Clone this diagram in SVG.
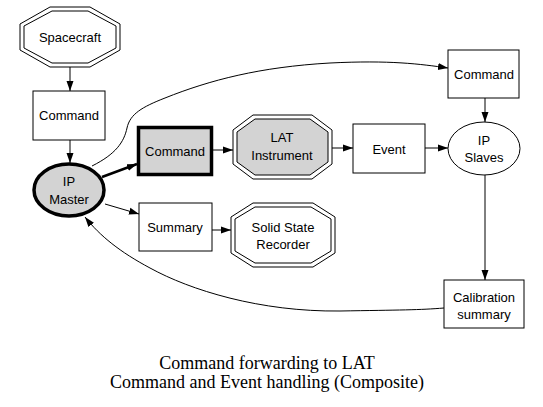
<svg xmlns="http://www.w3.org/2000/svg" width="543" height="407" viewBox="0 0 543 407">
<style>
.n{fill:#fff;stroke:#000;stroke-width:1}
.g{fill:#d3d3d3}
.thick{stroke-width:3.5}
.t{font-family:"Liberation Sans",Arial,sans-serif;font-size:13px;text-anchor:middle;fill:#000}
.c{fill:none;stroke:#000;stroke-width:1}
.tc{stroke-width:2.5}
.title{font-family:"Liberation Serif","Times New Roman",serif;font-size:18px;text-anchor:middle;fill:#000}
</style>
<defs>
<marker id="ah" viewBox="0 0 10 10" refX="10" refY="5" markerWidth="10" markerHeight="10" markerUnits="userSpaceOnUse" orient="auto">
<path d="M0,1.5 L10,5 L0,8.5 Z" fill="#000"/>
</marker>
</defs>
<rect width="543" height="407" fill="#fff"/>
<g id="connectors">
<line class="c" x1="70" y1="67" x2="70" y2="91" marker-end="url(#ah)"/>
<line class="c" x1="70" y1="140" x2="70" y2="163" marker-end="url(#ah)"/>
<line class="c tc" x1="102" y1="177" x2="137" y2="164" marker-end="url(#ah)"/>
<line class="c" x1="105" y1="204" x2="139" y2="214" marker-end="url(#ah)"/>
<line class="c" x1="213" y1="150" x2="233" y2="150" marker-end="url(#ah)"/>
<line class="c" x1="332" y1="148" x2="353" y2="148" marker-end="url(#ah)"/>
<line class="c" x1="425" y1="148" x2="448" y2="148" marker-end="url(#ah)"/>
<line class="c" x1="485" y1="98" x2="485" y2="122" marker-end="url(#ah)"/>
<line class="c" x1="485" y1="175" x2="485" y2="280" marker-end="url(#ah)"/>
<line class="c" x1="212" y1="230" x2="231" y2="230" marker-end="url(#ah)"/>
<path class="c" d="M92,166 C116,154 124,142 127,128 C130,114 142,107 165,98 C210,80 260,67 330,63 C390,60 420,64 448,68" marker-end="url(#ah)"/>
<path class="c" d="M444,308 C420,310 400,310 340,311 C260,312 190,290 150,268 C120,252 100,236 85,217" marker-end="url(#ah)"/>
</g>
<g id="spacecraft">
<polygon class="n" points="50,7 90,7 120,24 120,50 90,67 50,67 20,50 20,24"/>
<polygon class="n" points="52,11 88,11 116,26 116,48 88,63 52,63 24,48 24,26"/>
<text class="t" x="70" y="42">Spacecraft</text>
</g>
<g id="command1">
<rect class="n" x="33" y="91" width="72" height="49"/>
<text class="t" x="69" y="120">Command</text>
</g>
<g id="ipmaster">
<ellipse class="n g thick" cx="69" cy="190" rx="35" ry="26"/>
<text class="t" x="69" y="186">IP</text>
<text class="t" x="69" y="204">Master</text>
</g>
<g id="command2">
<rect class="n g thick" x="138.5" y="127.5" width="73" height="47"/>
<text class="t" x="175" y="156">Command</text>
</g>
<g id="summary">
<rect class="n" x="139" y="203" width="73" height="48"/>
<text class="t" x="175" y="232">Summary</text>
</g>
<g id="lat">
<polygon class="n" points="253,115 312,115 332,130 332,164 312,179 253,179 233,164 233,130"/>
<polygon class="n g" points="255,119 310,119 328,132 328,162 310,175 255,175 237,162 237,132"/>
<text class="t" x="282" y="142">LAT</text>
<text class="t" x="282" y="160">Instrument</text>
</g>
<g id="ssr">
<polygon class="n" points="253,203 313,203 335,217 335,253 313,267 253,267 231,253 231,217"/>
<polygon class="n" points="255,207 311,207 331,219 331,251 311,263 255,263 235,251 235,219"/>
<text class="t" x="283" y="232">Solid State</text>
<text class="t" x="283" y="249">Recorder</text>
</g>
<g id="event">
<rect class="n" x="353" y="124" width="72" height="49"/>
<text class="t" x="389" y="154">Event</text>
</g>
<g id="command3">
<rect class="n" x="448" y="50" width="71" height="48"/>
<text class="t" x="484" y="79">Command</text>
</g>
<g id="ipslaves">
<ellipse class="n" cx="484" cy="148.5" rx="36" ry="26.5"/>
<text class="t" x="484" y="145">IP</text>
<text class="t" x="484" y="162">Slaves</text>
</g>
<g id="calib">
<rect class="n" x="444" y="280" width="80" height="48"/>
<text class="t" x="484" y="302">Calibration</text>
<text class="t" x="484" y="319">summary</text>
</g>
<text class="title" x="267" y="369">Command forwarding to LAT</text>
<text class="title" x="267" y="388">Command and Event handling (Composite)</text>
</svg>
